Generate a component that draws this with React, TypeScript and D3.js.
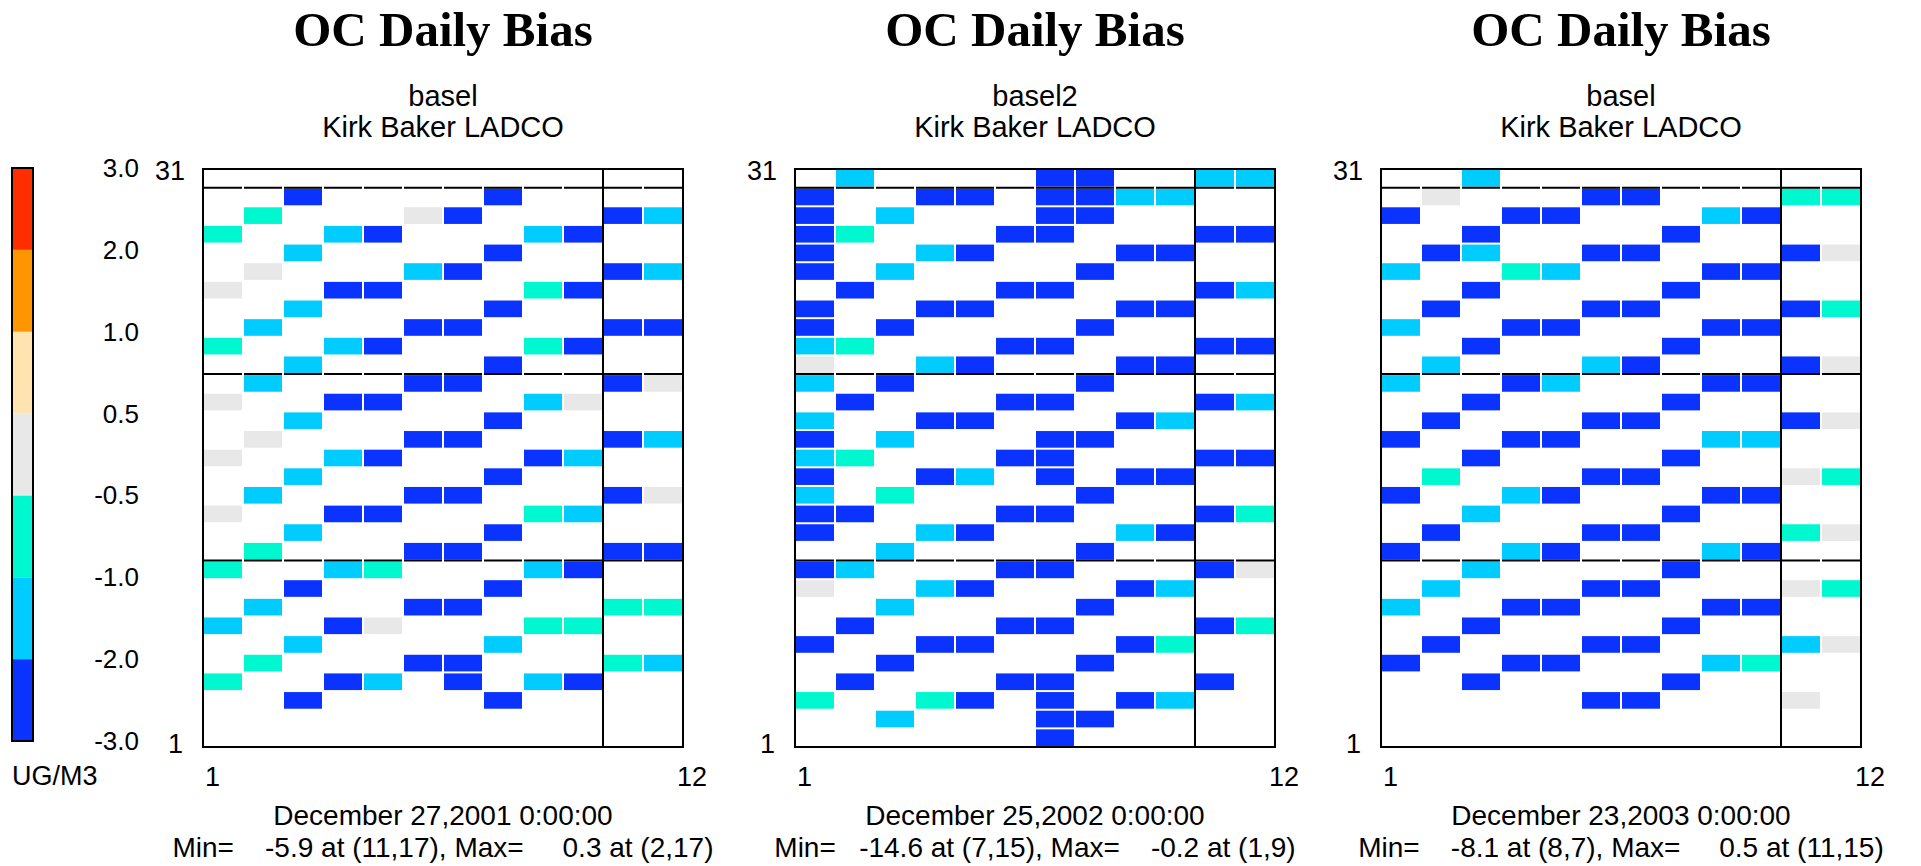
import React, { useEffect, useRef } from "react";
import * as d3 from "d3";

// colour classes of the bias (ug/m3)
const binEdges = [-2.0, -1.0, -0.5, 0.5, 1.0, 2.0];
const binColors = ["#0B33FF", "#00CCFF", "#00F8D0", "#E8E8E8", "#FFE4B0", "#FF9500", "#FF2D00"];
const legendLabels = ["-3.0", "-2.0", "-1.0", "-0.5", "0.5", "1.0", "2.0", "3.0"];
// estimated bias for each colour seen in the cells
const classValue: Record<string, number> = { B: -2.5, C: -1.5, A: -0.75, G: 0.0 };

// one string per day, day 31 first, one character per month (1..12), "." = no data
const bias2001 = [
  "............",
  "..B....B....",
  ".A...GB...BC",
  "A..CB...CB..",
  "..C....B....",
  ".G...CB...BC",
  "G..BB...AB..",
  "..C....B....",
  ".C...BB...BB",
  "A..CB...AB..",
  "..C....B....",
  ".C...BB...BG",
  "G..BB...CG..",
  "..C....B....",
  ".G...BB...BC",
  "G..CB...BC..",
  "..C....B....",
  ".C...BB...BG",
  "G..BB...AC..",
  "..C....B....",
  ".A...BB...BB",
  "A..CA...CB..",
  "..B....B....",
  ".C...BB...AA",
  "C..BG...AA..",
  "..C....C....",
  ".A...BB...AC",
  "A..BC.B.CB..",
  "..B....B....",
  "............",
  "............",
];

const bias2002 = [
  ".C....BB..CC",
  "B..BB.BBCC..",
  "B.C...BB....",
  "BA...BB...BB",
  "B..CB...BB..",
  "B.C....B....",
  ".B...BB...BC",
  "B..BB...BB..",
  "B.B....B....",
  "CA...BB...BB",
  "G..CB...BB..",
  "C.B....B....",
  ".B...BB...BC",
  "C..BB...BC..",
  "B.C...BB....",
  "CA...BB...BB",
  "B..BC.B.BB..",
  "C.A....B....",
  "BB...BB...BA",
  "B..CB...CB..",
  "..C....B....",
  "BC...BB...BG",
  "G..CB...BC..",
  "..C....B....",
  ".B...BB...BA",
  "B..BB...BA..",
  "..B....B....",
  ".B...BB...B.",
  "A..AB.B.BC..",
  "..C...BB....",
  "......B.....",
];

const bias2003 = [
  "..C.........",
  ".G...BB...AA",
  "B..BB...CB..",
  "..B....B....",
  ".BC..BB...BG",
  "C..AC...BB..",
  "..B....B....",
  ".B...BB...BA",
  "C..BB...BB..",
  "..B....B....",
  ".C...CB...BG",
  "C..BC...BB..",
  "..B....B....",
  ".B...BB...BG",
  "B..BB...CC..",
  "..B....B....",
  ".A...BB...GA",
  "B..CB...BB..",
  "..C....B....",
  ".B...BB...AG",
  "B..CB...CB..",
  "..C....B....",
  ".C...BB...GA",
  "C..BB...BB..",
  "..B....B....",
  ".B...BB...CG",
  "B..BB...CA..",
  "..B....B....",
  ".....BB...G.",
  "............",
  "............",
];

const grids = [bias2001, bias2002, bias2003];
const runNames = ["basel", "basel2", "basel"];
const dates = ["December 27,2001 0:00:00", "December 25,2002 0:00:00", "December 23,2003 0:00:00"];
const minValues = [-5.9, -14.6, -8.1];
const minAt = ["(11,17)", "(7,15)", "(8,7)"];
const maxValues = [0.3, -0.2, 0.5];
const maxAt = ["(2,17)", "(1,9)", "(11,15)"];
const dividerDays = [30.5, 20.5, 10.5];
const dividerMonth = 10.5;

const panelLeft = [203, 795, 1381];
const panelWidth = 480;
const plotTop = 169;
const plotBottom = 747;

const sans = "'Liberation Sans', Arial, Helvetica, sans-serif";
const serif = "'Liberation Serif', 'Times New Roman', serif";

function App() {
  const ref = useRef<SVGSVGElement>(null);

  useEffect(() => {
    const svg = d3.select(ref.current);
    svg.selectAll("*").remove();
    draw(svg);
  }, []);

  return (
    <svg
      ref={ref}
      width={1921}
      height={866}
      style={{ position: "absolute", left: 0, top: 0, background: "#fff", display: "block" }}
    />
  );
}

function draw(svg: any) {
  const color = d3.scaleThreshold<number, string>().domain(binEdges).range(binColors);

  // colour bar on the left
  const ly = d3.scaleLinear().domain([0, binColors.length]).range([741, 168]);
  const legend = svg.append("g");
  legend.selectAll("rect.band")
    .data(binColors)
    .enter()
    .append("rect")
    .attr("x", 12)
    .attr("width", 21)
    .attr("y", (d: string, i: number) => ly(i + 1))
    .attr("height", (d: string, i: number) => ly(i) - ly(i + 1))
    .attr("fill", (d: string) => d);
  legend.append("rect")
    .attr("x", 12).attr("y", ly(binColors.length))
    .attr("width", 21).attr("height", ly(0) - ly(binColors.length))
    .attr("fill", "none").attr("stroke", "#000").attr("stroke-width", 2);
  legend.selectAll("text.lab")
    .data(legendLabels)
    .enter()
    .append("text")
    .attr("x", 139)
    .attr("y", (d: string, i: number) => ly(i) + 9)
    .attr("text-anchor", "end")
    .style("font-family", sans)
    .style("font-size", "26px")
    .text((d: string) => d);
  legend.append("text")
    .attr("x", 12).attr("y", 785)
    .style("font-family", sans).style("font-size", "27px")
    .text("UG/M3");

  grids.forEach((grid, p) => {
    const left = panelLeft[p];
    const x = d3.scaleLinear().domain([0.5, 12.5]).range([left, left + panelWidth]);
    const y = d3.scaleLinear().domain([0.5, 31.5]).range([plotBottom, plotTop]);
    const g = svg.append("g");

    const cells: { month: number; day: number; value: number }[] = [];
    grid.forEach((row, i) => {
      row.split("").forEach((ch, j) => {
        if (ch !== ".") cells.push({ month: j + 1, day: 31 - i, value: classValue[ch] });
      });
    });

    g.selectAll("rect.cell")
      .data(cells)
      .enter()
      .append("rect")
      .attr("x", (d: any) => x(d.month - 0.5) + 1)
      .attr("y", (d: any) => y(d.day + 0.5) + 1)
      .attr("width", x(1.5) - x(0.5) - 2)
      .attr("height", y(0.5) - y(1.5) - 2)
      .attr("fill", (d: any) => color(d.value));

    // horizontal dividers, broken at each month boundary
    const months = d3.range(1, 13);
    dividerDays.forEach((dd) => {
      g.selectAll(null)
        .data(months)
        .enter()
        .append("line")
        .attr("x1", (m: number) => x(m - 0.5) + 1)
        .attr("x2", (m: number) => x(m + 0.5) - 1)
        .attr("y1", y(dd))
        .attr("y2", y(dd))
        .attr("stroke", "#000")
        .attr("stroke-width", 2);
    });
    g.append("line")
      .attr("x1", x(dividerMonth)).attr("x2", x(dividerMonth))
      .attr("y1", y(31.5)).attr("y2", y(0.5))
      .attr("stroke", "#000").attr("stroke-width", 2);
    g.append("rect")
      .attr("x", x(0.5)).attr("y", y(31.5))
      .attr("width", x(12.5) - x(0.5)).attr("height", y(0.5) - y(31.5))
      .attr("fill", "none").attr("stroke", "#000").attr("stroke-width", 2);

    const cx = x(6.5);
    // titles
    g.append("text")
      .attr("x", cx).attr("y", 46).attr("text-anchor", "middle")
      .style("font-family", serif).style("font-weight", "bold").style("font-size", "49px")
      .text("OC Daily Bias");
    g.append("text")
      .attr("x", cx).attr("y", 106).attr("text-anchor", "middle")
      .style("font-family", sans).style("font-size", "29px")
      .text(runNames[p]);
    g.append("text")
      .attr("x", cx).attr("y", 137).attr("text-anchor", "middle")
      .style("font-family", sans).style("font-size", "29px")
      .text("Kirk Baker LADCO");

    // axis end labels
    g.append("text")
      .attr("x", x(0.5) - 18).attr("y", y(31.5) + 11).attr("text-anchor", "end")
      .style("font-family", sans).style("font-size", "27px")
      .text("31");
    g.append("text")
      .attr("x", x(0.5) - 20).attr("y", y(0.5) + 6).attr("text-anchor", "end")
      .style("font-family", sans).style("font-size", "27px")
      .text("1");
    g.append("text")
      .attr("x", x(0.5) + 2).attr("y", 786)
      .style("font-family", sans).style("font-size", "27px")
      .text("1");
    g.append("text")
      .attr("x", x(12.5) - 6).attr("y", 786)
      .style("font-family", sans).style("font-size", "27px")
      .text("12");

    // footer
    g.append("text")
      .attr("x", cx).attr("y", 825).attr("text-anchor", "middle")
      .style("font-family", sans).style("font-size", "28px")
      .text(dates[p]);
    const minTxt = minValues[p].toFixed(1).padStart(8);
    const maxTxt = maxValues[p].toFixed(1).padStart(8);
    g.append("text")
      .attr("x", cx).attr("y", 857).attr("text-anchor", "middle")
      .style("font-family", sans).style("font-size", "28px")
      .style("white-space", "pre")
      .text(`Min=${minTxt} at ${minAt[p]}, Max=${maxTxt} at ${maxAt[p]}`);
  });
}

export default App;
